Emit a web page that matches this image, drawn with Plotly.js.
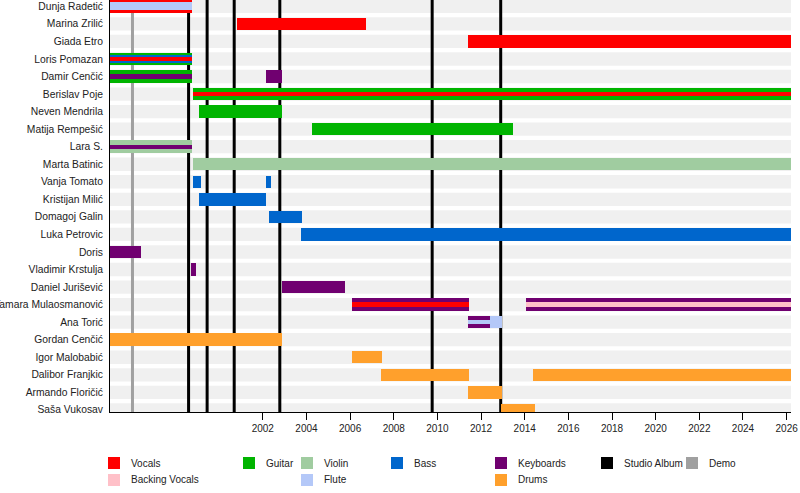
<!DOCTYPE html>
<html>
<head>
<meta charset="utf-8">
<script src="https://cdn.plot.ly/plotly-3.0.1.min.js"></script>
<style>
  body { margin: 0; background: #fff; }
  #chart { width: 800px; height: 493px; }
</style>
</head>
<body>
<div id="chart"></div>
<script>
// band line-up timeline, one row per member

const members = [
    'Dunja Radetić', 'Marina Zrilić', 'Giada Etro', 'Loris Pomazan', 'Damir Cenčić',
    'Berislav Poje', 'Neven Mendrila', 'Matija Rempešić', 'Lara S.', 'Marta Batinic',
    'Vanja Tomato', 'Kristijan Milić', 'Domagoj Galin', 'Luka Petrovic', 'Doris',
    'Vladimir Krstulja', 'Daniel Jurišević', 'Tamara Mulaosmanović', 'Ana Torić', 'Gordan Cenčić',
    'Igor Malobabić', 'Dalibor Franjkic', 'Armando Floričić', 'Saša Vukosav'
];

const START = 1995;
const NOW = 2026.2;

// [member, from, to] — main bars
const vocals = [['Dunja Radetić', START, 1998.75], ['Marina Zrilić', 2000.8, 2006.75], ['Giada Etro', 2011.4, NOW]];
const guitar = [['Loris Pomazan', START, 1998.75], ['Damir Cenčić', START, 1998.75], ['Berislav Poje', 1998.8, NOW],
    ['Neven Mendrila', 1999.1, 2002.9], ['Matija Rempešić', 2004.25, 2013.45]];
const violin = [['Lara S.', START, 1998.75], ['Marta Batinic', 1998.8, NOW]];
const bass = [['Vanja Tomato', 1998.8, 1999.15], ['Vanja Tomato', 2002.15, 2002.37], ['Kristijan Milić', 1999.1, 2002.15],
    ['Domagoj Galin', 2002.3, 2003.8], ['Luka Petrovic', 2003.75, NOW]];
const keyboards = [['Damir Cenčić', 2002.15, 2002.9], ['Doris', START, 1996.4], ['Vladimir Krstulja', 1998.7, 1998.93],
    ['Daniel Jurišević', 2002.88, 2005.75], ['Tamara Mulaosmanović', 2006.1, 2011.45],
    ['Tamara Mulaosmanović', 2014.05, NOW], ['Ana Torić', 2011.4, 2012.4]];
const flute = [['Ana Torić', 2012.4, 2012.95]];
const drums = [['Gordan Cenčić', START, 2002.9], ['Igor Malobabić', 2006.1, 2007.45], ['Dalibor Franjkic', 2007.4, 2011.45],
    ['Dalibor Franjkic', 2014.4, NOW], ['Armando Floričić', 2011.4, 2012.95], ['Saša Vukosav', 2012.9, 2014.45]];

// secondary instruments drawn as stripes over the main bar
const bassSecond = [['Loris Pomazan', START, 1998.75]];
const fluteSecond = [['Dunja Radetić', START, 1998.75]];
const vocalsThird = [['Loris Pomazan', START, 1998.75], ['Berislav Poje', 1998.8, NOW], ['Tamara Mulaosmanović', 2006.1, 2011.45]];
const keyboardsThird = [['Damir Cenčić', START, 1998.75], ['Lara S.', START, 1998.75]];
const backingThird = [['Tamara Mulaosmanović', 2014.05, NOW]];
const fluteThird = [['Ana Torić', 2011.4, 2012.4]];

const studioAlbums = [1998.6, 1999.45, 2000.69, 2002.78, 2009.76, 2012.9];
const demos = [1996.03];
const xTicks = [2002, 2004, 2006, 2008, 2010, 2012, 2014, 2016, 2018, 2020, 2022, 2024, 2026];

const C = {
    vocals: '#ff0000', backing: '#ffc0c8', guitar: '#00b400', violin: '#a0cca0', bass: '#0066cc',
    keyboards: '#700070', flute: '#b4c8f8', drums: '#ffa02c', album: '#000000', demo: '#a0a0a0'
};

const rowOf = name => members.indexOf(name);

function spanTrace(spans, color, width) {
    return {
        type: 'bar', orientation: 'h',
        y: spans.map(s => rowOf(s[0])),
        base: spans.map(s => s[1]),
        x: spans.map(s => s[2] - s[1]),
        width: width,
        marker: { color: color, line: { width: 0 } },
        hoverinfo: 'skip'
    };
}

const MAIN = 0.71, MID = 0.47, THIN = 0.25;
const traces = [
    spanTrace(vocals, C.vocals, MAIN), spanTrace(guitar, C.guitar, MAIN), spanTrace(violin, C.violin, MAIN),
    spanTrace(bass, C.bass, MAIN), spanTrace(keyboards, C.keyboards, MAIN), spanTrace(flute, C.flute, MAIN),
    spanTrace(drums, C.drums, MAIN),
    spanTrace(bassSecond, C.bass, MID), spanTrace(fluteSecond, C.flute, MID),
    spanTrace(vocalsThird, C.vocals, THIN), spanTrace(keyboardsThird, C.keyboards, THIN),
    spanTrace(backingThird, C.backing, THIN), spanTrace(fluteThird, C.flute, THIN)
];

// row bands, then event lines, all under the bars
const shapes = [];
members.forEach((m, i) => shapes.push({
    type: 'rect', layer: 'below', xref: 'paper', yref: 'y', x0: 0, x1: 1, y0: i - 0.38, y1: i + 0.38,
    fillcolor: '#f0f0f0', line: { width: 0 }
}));
studioAlbums.forEach(x => shapes.push({
    type: 'line', layer: 'below', xref: 'x', yref: 'paper', x0: x, x1: x, y0: 0, y1: 1,
    line: { color: C.album, width: 3 }
}));
demos.forEach(x => shapes.push({
    type: 'line', layer: 'below', xref: 'x', yref: 'paper', x0: x, x1: x, y0: 0, y1: 1,
    line: { color: C.demo, width: 3 }
}));

// legend, hand-placed below the plot (pixel -> paper)
const PL = 110, PW = 681, PB = 412, PH = 412;
const px = v => (v - PL) / PW;
const py = v => (PB - v) / PH;
const legendItems = [
    ['Vocals', C.vocals, 108, 463], ['Backing Vocals', C.backing, 108, 480],
    ['Guitar', C.guitar, 243, 463],
    ['Violin', C.violin, 301, 463], ['Flute', C.flute, 301, 480],
    ['Bass', C.bass, 391, 463],
    ['Keyboards', C.keyboards, 495, 463], ['Drums', C.drums, 495, 480],
    ['Studio Album', C.album, 601, 463], ['Demo', C.demo, 686, 463]
];
const annotations = [];
legendItems.forEach(([label, color, x, y]) => {
    shapes.push({
        type: 'rect', xref: 'paper', yref: 'paper', x0: px(x), x1: px(x + 12), y0: py(y + 6), y1: py(y - 6),
        fillcolor: color, line: { width: 0 }
    });
    annotations.push({
        xref: 'paper', yref: 'paper', x: px(x + 21), y: py(y), text: label, showarrow: false,
        xanchor: 'left', yanchor: 'middle', font: { size: 10, color: '#222' }
    });
});

const layout = {
    width: 800, height: 493,
    margin: { l: PL, r: 800 - PL - PW, t: 0, b: 493 - PB },
    paper_bgcolor: '#fff', plot_bgcolor: '#fff',
    font: { family: 'Liberation Sans, Arial, sans-serif', size: 10, color: '#222' },
    showlegend: false, barmode: 'overlay', bargap: 0,
    xaxis: {
        range: [START, NOW], tickmode: 'array', tickvals: xTicks, ticks: 'outside', ticklen: 7,
        tickcolor: '#000', showline: true, linecolor: '#000', linewidth: 1, showgrid: false, zeroline: false,
        tickfont: { size: 10, color: '#222' }, fixedrange: true
    },
    yaxis: {
        range: [23.12, -0.36], tickmode: 'array', tickvals: members.map((m, i) => i), ticktext: members,
        ticks: '', showline: true, linecolor: '#000', linewidth: 1, showgrid: false, zeroline: false,
        tickfont: { size: 10.3, color: '#222' }, ticklabelstandoff: 4, fixedrange: true
    },
    shapes: shapes,
    annotations: annotations
};

Plotly.newPlot('chart', traces, layout, { displayModeBar: false, staticPlot: true });
</script>
</body>
</html>
